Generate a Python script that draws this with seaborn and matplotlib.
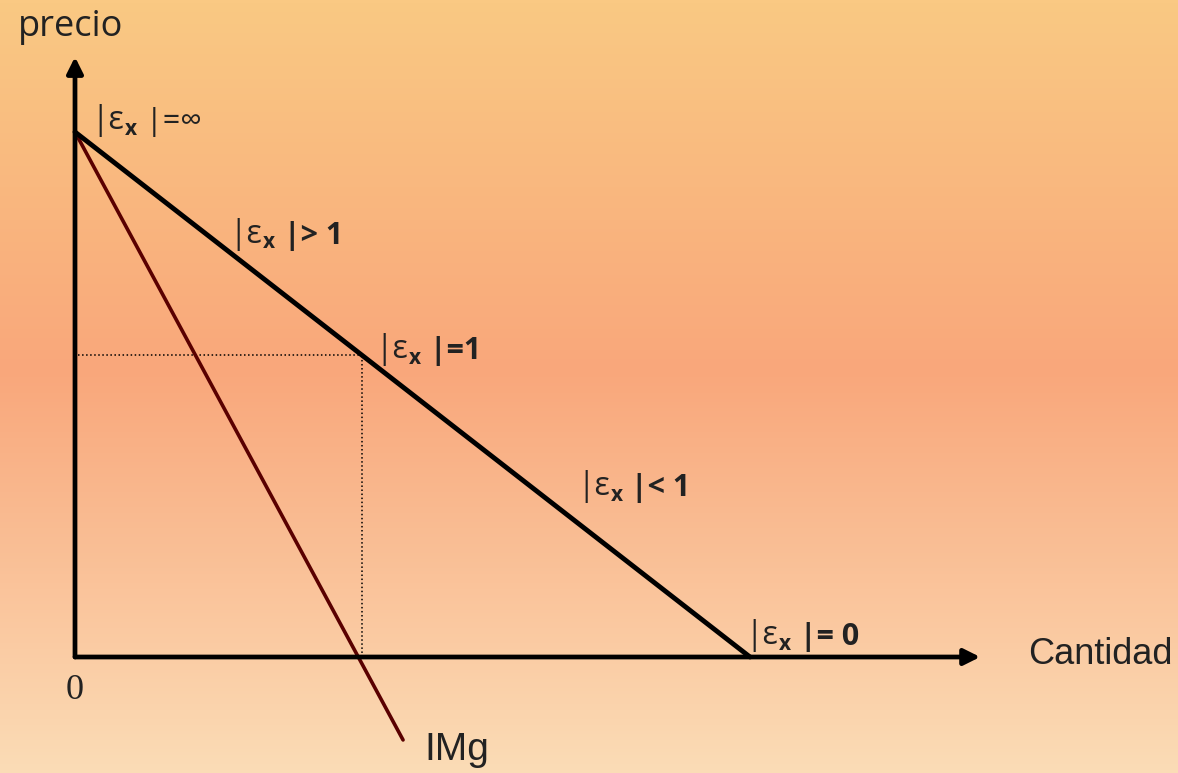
import numpy as np
import pandas as pd
import matplotlib
matplotlib.use("Agg")
import matplotlib.pyplot as plt
from matplotlib.colors import LinearSegmentedColormap
import seaborn as sns

# demand line (price intercept 10, quantity intercept 10)
demand_q = [0, 10]
demand_p = [10, 0]
# marginal revenue line (IMg), drawn past the quantity axis
img_q = [0, 4.86]
img_p = [10, -1.58]
# point where |e| = 1
unit_q = 4.25
unit_p = 5.75
# axis ends
x_end = 13.41
y_end = 11.43

label_main = "|ε"
label_sub = "x"
label_tails = [" |=∞", " |> 1", " |=1", " |< 1", " |= 0"]
label_q = [0, 2.37, unit_q, 7.5, 10]

sns.set_theme(style="white")
plt.rcParams["font.family"] = ["Open Sans", "DejaVu Sans"]

fig = plt.figure(figsize=(11.78, 7.73), dpi=100)

# background gradient
bg = fig.add_axes([0, 0, 1, 1])
cmap = LinearSegmentedColormap.from_list(
    "bg", [(0, "#fac983"), (0.48, "#f9a77b"), (1, "#fbdcb6")])
bg.imshow(np.linspace(0, 1, 256).reshape(-1, 1), aspect="auto", cmap=cmap,
          extent=[0, 1, 1, 0])
bg.set_axis_off()

ax = fig.add_axes([0, 0, 1, 1])
ax.patch.set_alpha(0)
ax.set_xlim(-75 / 67.5, (1178 - 75) / 67.5)
ax.set_ylim(-(773 - 657) / 52.5, 657 / 52.5)
ax.set_axis_off()

# axes with arrows
ax.annotate("", xy=(x_end, 0), xytext=(0, 0),
            arrowprops=dict(arrowstyle="-|>", lw=3.4, color="black",
                            mutation_scale=24, shrinkA=0, shrinkB=0))
ax.annotate("", xy=(0, y_end), xytext=(0, 0),
            arrowprops=dict(arrowstyle="-|>", lw=3.4, color="black",
                            mutation_scale=24, shrinkA=0, shrinkB=0))

# dotted guides to the unit elastic point
ax.plot([0.05, unit_q], [unit_p, unit_p], ls=":", color="black", lw=1.1)
ax.plot([unit_q, unit_q], [0, unit_p], ls=":", color="black", lw=1.1)

sns.lineplot(x=img_q, y=img_p, ax=ax, color="#5a0000", lw=2.6)
sns.lineplot(x=demand_q, y=demand_p, ax=ax, color="black", lw=3.5)

# elasticity labels
offsets = [(12, 2), (-4, 10), (10, -2), (-3, 22), (-3, 9)]
for q, tail, off in zip(label_q, label_tails, offsets):
    p = 10 - q
    t1 = ax.annotate(label_main, xy=(q, p), xytext=off, textcoords="offset points",
                     fontsize=23, color="#222222", va="baseline", ha="left")
    t2 = ax.annotate(label_sub, xy=(1, 0), xycoords=t1, xytext=(0.5, -2),
                     textcoords="offset points", fontsize=15, weight="bold",
                     color="#222222", va="bottom", ha="left")
    w = "normal" if "∞" in tail else "bold"
    ax.annotate(tail, xy=(1, 0), xycoords=(t2, t1), xytext=(0.5, 0),
                textcoords="offset points", fontsize=22, weight=w,
                color="#222222", va="bottom", ha="left")

ax.text(-0.85, 12.0, "precio", fontsize=26, color="#222222", va="center", ha="left")
ax.text((1028 - 75) / 67.5, 0.05, "Cantidad", fontsize=26, color="#222222",
        family=["Liberation Sans", "DejaVu Sans"], va="center", ha="left")
ax.text(img_q[1] + 0.32, img_p[1] - 0.2, "IMg", fontsize=28, color="#222222",
        family=["Liberation Sans", "DejaVu Sans"], va="center", ha="left")
ax.text(0, -0.63, "0", fontsize=26, color="#222222",
        family=["Liberation Serif", "DejaVu Serif"], va="center", ha="center")

fig.savefig("out.png", dpi=100)
